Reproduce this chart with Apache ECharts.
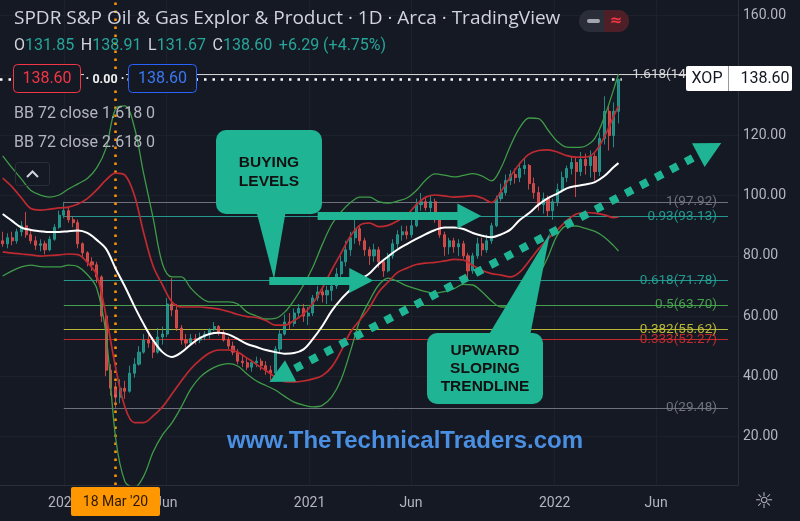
<!DOCTYPE html>
<html><head><meta charset="utf-8">
<script src="https://cdn.jsdelivr.net/npm/echarts@6/dist/echarts.min.js"></script>
<style>html,body{margin:0;padding:0;background:#151924;}#c{width:800px;height:521px;}</style>
</head><body><div id="c"></div>
<script>
// ===== DATA =====
// weekly candles starting 2019-10-02
const candleStart = '2019-10-02';
const openP  = [85,84,86,85,88,90,87,85,83.5,84,82,85.5,89.5,93.5,95,92,91,84,81,78,77,73,60,42,36,33,36,35,41,44,48,52,51,48,53,54,64,62,56,52,51,52.5,52,53,54,55.5,56.5,54.5,52,50,48,45,44.5,43,44.5,45,43.5,42,41,49,54,58,57.5,61,62.5,60,61,66,68,67,68.5,70,74,78,82,86,89,85,82,80,82,78,75,80,84,87,88,87,90,97,98,96,98,92,87,83,85,83,84,80,75,80,84,82,85,90,99,101,105,107,106,109,110,104,101,97,99,95,98,102,106,109,111,108,112,110,113,108,119,128,120,128];
const closeP = [84,86,85,88,90,87,85,83.5,84,82,85.5,89.5,93.5,95,92,91,84,81,78,77,73,60,42,36,33,36,35,41,44,48,52,51,48,53,54,64,62,56,52,51,52.5,52,53,54,55.5,56.5,54.5,52,50,48,45,44.5,43,44.5,45,43.5,42,41,49,54,58,57.5,61,62.5,60,61,66,68,67,68.5,70,74,78,82,86,89,85,82,80,82,78,75,80,84,87,88,87,90,97,98,96,98,92,87,83,85,83,84,80,75,80,84,82,85,90,99,101,105,107,106,109,110,104,101,97,99,95,98,102,106,109,111,108,112,110,113,108,119,128,120,128,138.6];
const lowP   = [83,82.5,83.5,84,86.5,86,84,82,81.5,80.5,81.5,85,89,92.5,91,89.5,82.5,79.5,76.5,75,71,58,40,33.5,29.48,31,32.5,34.5,39.5,43.5,47.5,49.5,46,47.5,50.5,53,60,55,50.5,49.5,50.5,50.5,51,52,52.5,55,53.5,51.5,49,47,44,43,42,41.5,43,42,40.5,38.7,40.5,48,53.5,55.5,56.5,59.5,58,57,60,65,64.5,64,65,69,73,76.5,80,84,83.5,80,77,78,76,73,74.5,79,82.5,85,85.5,86,89.5,95,95,94.5,91,86,80,80.5,81,80,79,72,74,79,80,81,84,89.5,98,100,103.5,104,104.5,107,102,99,95,94,93,92,96.5,101,104.5,107,99.5,106.5,107,106,105,106.5,117,115,116,124];
const highP  = [88,87.5,88,89,91.5,94.6,89,86.5,85.5,85,86.5,90.5,95,97.92,96,93,92,84.5,81.5,79.5,78,73.5,61,44,38,39,38.5,43.5,46,50,54,55,53,56,56.5,66,72.6,64,57,54,54,54,54.5,55,56,58,57,55.5,53,51.5,49,47,46,45.5,46.5,46,45,43.5,50,55.5,60.5,61,62.5,64,64,63,67,70,69.5,70,71,76,80,85,88,92,90,86,83,84,83,79,81,85.5,88.5,90,90,92,99,100.9,99.5,100,99,93,88,86,86,85.5,85,81,81,86,86,87,91,100,104,107,108.5,109,111,112.5,110.5,106,103,101,100,99,104,108,110,113,113,114.5,114,115,114,121,133,130,131,138.91];

// Bollinger bands (72, close) sampled every two weeks from 2019-10-02, last point = last candle
const bandStart = '2019-10-02';
const bbMid = [93.9,91.6,89.4,88.6,88.2,87.9,87.9,88.2,88.4,87.6,85.3,82.3,75.8,69.8,63.3,57.3,52.0,48.0,46.4,47.9,50.5,52.7,54.0,54.4,53.9,52.4,50.7,49.7,48.7,48.0,47.5,47.7,48.9,52.4,56.7,61.7,65.6,68.8,72.0,74.1,77.3,79.8,82.1,83.9,85.6,87.2,88.6,89.4,89.4,88.9,87.6,86.7,86.2,87.1,88.7,91.9,94.2,97.0,99.2,100.7,102.4,103.2,103.7,104.5,106.5,109.5,110.8];
const bbUp1 = [105.8,102.9,99.2,95.7,95.2,95.5,95.9,96.2,97.2,99.0,101.9,105.2,107.5,106.8,100.2,87.6,76.6,70.3,64.7,63.0,63.0,63.0,62.7,62.3,61.5,60.5,59.8,59.5,58.5,57.0,57.0,58.5,60.7,64.2,69.3,75.3,80.9,86.6,90.2,90.9,89.7,90.1,91.6,93.6,97.0,99.5,100.2,99.9,99.5,99.7,100.0,99.2,97.7,101.4,106.3,110.7,113.8,115.0,115.2,114.5,113.3,112.8,112.8,114.5,119.5,126.4,129.8];
const bbLo1 = [81.3,80.9,80.6,80.3,79.9,80.1,80.3,80.6,80.4,77.8,73.6,60.0,43.1,29.8,24.6,24.6,26.8,29.8,34.1,38.4,42.4,45.4,47.7,48.7,48.7,48.0,46.0,43.9,41.9,39.7,38.2,38.1,38.4,39.1,40.2,43.1,48.4,54.7,58.7,62.7,68.0,71.3,74.5,75.9,77.1,77.6,77.8,78.3,78.8,78.6,76.9,75.1,74.1,73.6,73.0,74.6,78.3,82.3,85.6,88.6,91.7,93.9,94.4,94.2,93.6,92.7,92.9];
const bbUp2 = [113.2,109.2,105.5,101.7,100.2,99.5,100.2,102.2,103.9,105.7,109.2,115.8,128.8,129.8,122.8,107.2,92.6,77.3,73.0,73.0,69.3,66.3,64.7,64.7,64.7,64.0,61.3,60.0,59.0,59.2,61.3,65.3,70.3,76.3,83.8,90.4,94.6,97.7,99.5,99.5,98.0,97.5,98.2,99.2,101.7,105.2,107.2,106.8,106.2,106.7,107.3,106.5,104.9,109.2,116.5,122.6,125.8,125.6,121.8,118.0,116.1,116.0,116.5,119.1,126.1,135.4,140.4];
const bbLo2 = [73.3,75.0,76.3,76.9,76.4,76.3,76.3,76.9,76.4,73.8,69.3,53.7,19.8,5.0,3.0,6.8,14.8,20.5,24.5,29.8,35.7,39.7,42.1,43.6,44.2,43.4,40.7,38.4,36.9,35.4,33.3,31.4,30.4,29.8,30.3,33.1,38.9,48.4,58.7,65.0,70.3,72.6,71.5,70.0,69.0,68.1,67.6,68.1,69.1,70.5,70.3,68.0,65.0,63.0,63.0,64.3,67.3,73.3,79.6,86.9,89.9,89.9,89.1,88.1,86.2,83.3,81.6];

// Fibonacci retracement levels
const fibRatios = ['1','0.93','0.618','0.5','0.382','0.333','0','1.618'];
const fibPrices = [97.92,93.13,71.78,63.70,55.62,52.27,29.48,140.22];
const fibColors = ['#787b86','#26a69a','#26a69a','#4caf50','#c8c83a','#d32f2f','#787b86','#e6e6e6'];
const fibStart = '2020-01-01';
const fibEnd = '2022-09-16';

const yTicks = [20,40,60,80,100,120,140,160];
const xTickDates = ['2020-01-01','2020-06-01','2021-01-01','2021-06-01','2022-01-01','2022-06-01'];
const xTickLabels = ['2020','Jun','2021','Jun','2022','Jun'];
const lastPrice = 138.60;
const crossDate = '2020-03-18';

// hand-drawn annotations (date, price anchors)
const arrowUpper = [['2021-01-13',93.2],['2021-08-27',93.2]];
const arrowLower = [['2020-11-02',71.8],['2021-03-19',71.8]];
const trendLine  = [['2020-11-18',39.9],['2022-08-20',115.5]];

// ===== BUILD =====
const DAY = 86400000;
const T = s => { const p = s.split('-').map(Number); return Date.UTC(p[0], p[1]-1, p[2]); };
const candleDates = openP.map((_, i) => T(candleStart) + i*7*DAY);
const bandDates = bbMid.map((_, i) => i < bbMid.length-1 ? T(bandStart) + i*14*DAY : candleDates[candleDates.length-1]);
const candles = candleDates.map((t,i)=>[t, openP[i], closeP[i], lowP[i], highP[i]]);
const pts = arr => arr.map((v,i)=>[bandDates[i], v]);
const xTickTs = xTickDates.map(T);
const xLabelFor = v => { let best = '', d = Infinity; xTickTs.forEach((t,i)=>{ if (Math.abs(t-v) < d) { d = Math.abs(t-v); best = xTickLabels[i]; } }); return d < DAY ? best : ''; };

const TEAL = '#1fb594';
const fibLines = fibPrices.map((p,i)=>[
  {coord:[T(fibStart), p], lineStyle:{color:fibColors[i], width:1, type:'solid', opacity:0.9},
   label:{formatter: fibRatios[i]+'('+p.toFixed(2)+')', color:fibColors[i]}},
  {coord:[T(fibEnd), p]}
]);

const chart = echarts.init(document.getElementById('c'), null, {renderer:'canvas'});
const bandLine = (name, data, color, width, z) => ({
  type:'line', name, data: pts(data), smooth:0.35, symbol:'none', z,
  lineStyle:{color, width}, silent:true
});

chart.setOption({
  backgroundColor:'#151924',
  animation:false,
  grid:{left:0, right:62, top:0, bottom:36},
  xAxis:{
    type:'value', min:T('2019-09-28'), max:T('2022-10-01'),
    axisLine:{show:true, onZero:false, lineStyle:{color:'#2a2e39'}},
    axisTick:{show:false, customValues:xTickTs},
    splitLine:{show:true, lineStyle:{color:'#1d212c'}},
    axisLabel:{customValues:xTickTs, formatter:v=>xLabelFor(v), color:'#b2b5be', fontSize:14, margin:11, fontFamily:'Roboto'}
  },
  yAxis:{
    type:'value', position:'right', min:3.85, max:165,
    axisLine:{show:true, lineStyle:{color:'#2a2e39'}},
    axisTick:{show:false, customValues:yTicks},
    splitLine:{show:true, lineStyle:{color:'#1d212c'}},
    axisLabel:{customValues:yTicks, formatter:v=>v.toFixed(2), color:'#b2b5be', fontSize:14, margin:5, fontFamily:'Roboto'}
  },
  series:[
    {type:'line', name:'fillBase', data:pts(bbLo2), stack:'bb', smooth:0.35, symbol:'none', lineStyle:{opacity:0}, z:1, silent:true},
    {type:'line', name:'fillBand', data:bbUp2.map((v,i)=>[bandDates[i], v-bbLo2[i]]), stack:'bb', smooth:0.35, symbol:'none',
      lineStyle:{opacity:0}, areaStyle:{color:'rgba(70,110,190,0.12)'}, z:1, silent:true},
    {type:'candlestick', name:'XOP', data:candles, encode:{x:0, y:[1,2,3,4]}, barWidth:2.6, z:3,
      itemStyle:{color:'#26a69a', color0:'#ef5350', borderColor:'#26a69a', borderColor0:'#ef5350', borderWidth:1, opacity:0.8},
      markLine:{silent:true, symbol:['none','none'], z:2,
        lineStyle:{type:'solid'},
        label:{show:true, position:'insideEnd', distance:[11,0], fontSize:13.5, fontFamily:'Roboto'},
        data: fibLines.concat([
          [{coord:[T('2019-09-28'), lastPrice], lineStyle:{color:'#ffffff', width:2.5, type:[2.5,6]}, label:{show:false}},
           {coord:[T('2022-04-11'), lastPrice]}],
          [{coord:[T(crossDate), 3.85], lineStyle:{color:'#ff9800', width:2.5, type:[2.5,5.5]}, label:{show:false}},
           {coord:[T(crossDate), 165]}]
        ])
      }
    },
    bandLine('bbUp2', bbUp2, '#3f9b48', 1.3, 4),
    bandLine('bbLo2', bbLo2, '#3f9b48', 1.3, 4),
    bandLine('bbUp1', bbUp1, '#bf2a30', 1.7, 4),
    bandLine('bbLo1', bbLo1, '#bf2a30', 1.7, 4),
    bandLine('bbMid', bbMid, '#ffffff', 2, 5),
    {type:'line', name:'annotations', data:[], z:10, silent:true,
      markLine:{silent:true, z:10, symbol:['none','none'], label:{show:false},
        data:[
          [{coord:[T(arrowUpper[0][0]), arrowUpper[0][1]], symbol:'none', lineStyle:{color:TEAL, width:8, type:'solid'}},
           {coord:[T(arrowUpper[1][0]), arrowUpper[1][1]], symbol:'triangle', symbolSize:[25,24]}],
          [{coord:[T(arrowLower[0][0]), arrowLower[0][1]], symbol:'none', lineStyle:{color:TEAL, width:8, type:'solid'}},
           {coord:[T(arrowLower[1][0]), arrowLower[1][1]], symbol:'triangle', symbolSize:[25,24]}],
          [{coord:[T(trendLine[0][0]), trendLine[0][1]], symbol:'triangle', symbolSize:[24,24], lineStyle:{color:TEAL, width:8, type:[8,9]}},
           {coord:[T(trendLine[1][0]), trendLine[1][1]], symbol:'triangle', symbolSize:[27,26]}]
        ]
      }
    }
  ],
  graphic:[
    {type:'text', left:14, top:9, z:100, style:{text:'SPDR S&P Oil & Gas Explor & Product · 1D · Arca · TradingView', fill:'#d1d4dc', font:'19px "Open Sans"'}},
    {type:'text', left:14, top:38, z:100, style:{
      text:'{l|O}{v|131.85}  {l|H}{v|138.91}  {l|L}{v|131.67}  {l|C}{v|138.60}  {v|+6.29 (+4.75%)}',
      rich:{l:{fill:'#d1d4dc', font:'16px Roboto'}, v:{fill:'#26a69a', font:'16px Roboto'}}}},
    {type:'rect', z:100, shape:{x:579,y:10,width:50,height:22,r:11}, style:{fill:'#2a2e39'}},
    {type:'rect', z:101, shape:{x:604,y:10,width:25,height:22,r:[0,11,11,0]}, style:{fill:'#4e1f27'}},
    {type:'rect', z:101, shape:{x:587,y:19,width:13,height:4,r:2}, style:{fill:'#a3a6af'}},
    {type:'text', z:101, x:616, y:21, style:{text:'≈', fill:'#f23645', font:'bold 15px "DejaVu Sans"', align:'center', verticalAlign:'middle'}},
    {type:'rect', z:100, shape:{x:13.5,y:64.5,width:67,height:28,r:4}, style:{fill:'#151924', stroke:'#f23645', lineWidth:1}},
    {type:'text', z:101, x:47, y:79, style:{text:'138.60', fill:'#f23645', font:'16px Roboto', align:'center', verticalAlign:'middle'}},
    {type:'rect', z:100, shape:{x:84,y:71,width:42,height:16}, style:{fill:'#151924'}},
    {type:'text', z:101, x:105, y:79.5, style:{text:'· 0.00 ·', fill:'#f0f0f0', font:'bold 12.5px Roboto', align:'center', verticalAlign:'middle'}},
    {type:'rect', z:100, shape:{x:128.5,y:64.5,width:68,height:28,r:4}, style:{fill:'#151924', stroke:'#2962ff', lineWidth:1}},
    {type:'text', z:101, x:162.5, y:79, style:{text:'138.60', fill:'#3b78f0', font:'16px Roboto', align:'center', verticalAlign:'middle'}},
    {type:'text', z:100, left:14, top:106, style:{text:'BB 72 close 1.618 0', fill:'#b2b5be', font:'16px Roboto'}},
    {type:'text', z:100, left:14, top:135, style:{text:'BB 72 close 2.618 0', fill:'#b2b5be', font:'16px Roboto'}},
    {type:'rect', z:100, shape:{x:15.5,y:162.5,width:34,height:23,r:3}, style:{fill:'none', stroke:'#2a2e39', lineWidth:1}},
    {type:'polyline', z:100, shape:{points:[[27,177],[32.5,171.5],[38,177]]}, style:{stroke:'#d1d4dc', lineWidth:2, fill:'none'}},
    {type:'rect', z:100, shape:{x:686,y:66,width:106,height:25,r:2}, style:{fill:'#ffffff'}},
    {type:'line', z:101, shape:{x1:728.5,y1:66,x2:728.5,y2:91}, style:{stroke:'#9598a1', lineWidth:1}},
    {type:'text', z:101, x:707, y:78.5, style:{text:'XOP', fill:'#131722', font:'16px Roboto', align:'center', verticalAlign:'middle'}},
    {type:'text', z:101, x:765, y:78.5, style:{text:'138.60', fill:'#131722', font:'16px Roboto', align:'center', verticalAlign:'middle'}},
    {type:'rect', z:100, shape:{x:216,y:130,width:106,height:84,r:10}, style:{fill:TEAL}},
    {type:'polygon', z:100, shape:{points:[[256,210],[286,210],[274,279]]}, style:{fill:TEAL}},
    {type:'text', z:101, x:269, y:163, style:{text:'BUYING', fill:'#111111', font:'bold 15.5px "Liberation Sans"', align:'center', verticalAlign:'middle'}},
    {type:'text', z:101, x:269, y:182, style:{text:'LEVELS', fill:'#111111', font:'bold 15.5px "Liberation Sans"', align:'center', verticalAlign:'middle'}},
    {type:'rect', z:100, shape:{x:427,y:333,width:116,height:71,r:10}, style:{fill:TEAL}},
    {type:'polygon', z:100, shape:{points:[[488,336],[530,336],[550,233]]}, style:{fill:TEAL}},
    {type:'text', z:101, x:485, y:351, style:{text:'UPWARD', fill:'#111111', font:'bold 15.5px "Liberation Sans"', align:'center', verticalAlign:'middle'}},
    {type:'text', z:101, x:485, y:369, style:{text:'SLOPING', fill:'#111111', font:'bold 15.5px "Liberation Sans"', align:'center', verticalAlign:'middle'}},
    {type:'text', z:101, x:485, y:387, style:{text:'TRENDLINE', fill:'#111111', font:'bold 15.5px "Liberation Sans"', align:'center', verticalAlign:'middle'}},
    {type:'text', z:100, x:405, y:441, style:{text:'www.TheTechnicalTraders.com', fill:'#4a8fe2', font:'bold 24px "Liberation Sans"', align:'center', verticalAlign:'middle'}},
    {type:'rect', z:100, shape:{x:71,y:487,width:89,height:29,r:2}, style:{fill:'#ff9800'}},
    {type:'text', z:101, x:115.5, y:502, style:{text:"18 Mar '20", fill:'#2b1800', font:'14px Roboto', align:'center', verticalAlign:'middle'}},
    {type:'text', z:100, x:764, y:502, style:{text:'☼', fill:'#b2b5be', font:'22px "DejaVu Sans"', align:'center', verticalAlign:'middle'}}
  ]
});
</script></body></html>
